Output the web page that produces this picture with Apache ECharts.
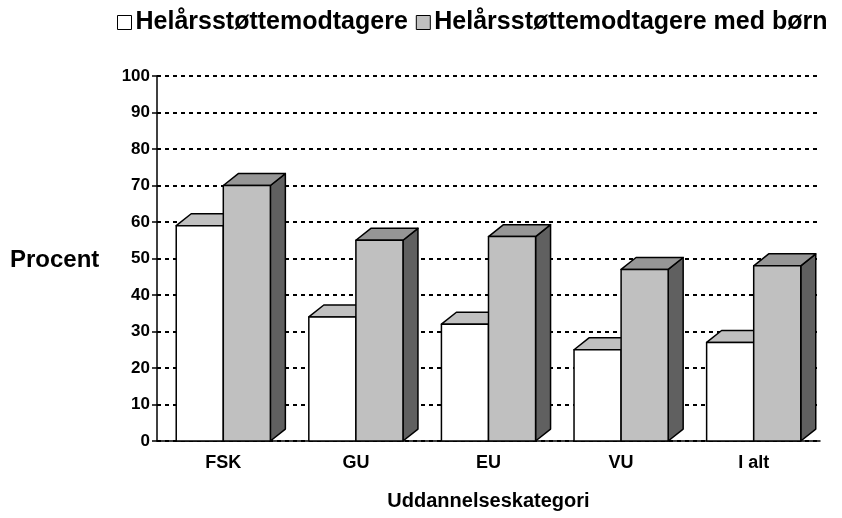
<!DOCTYPE html>
<html>
<head>
<meta charset="utf-8">
<script src="https://cdn.jsdelivr.net/npm/echarts@6/dist/echarts.min.js"></script>
<style>
html, body { margin: 0; padding: 0; background: #fff; }
#main { width: 842px; height: 518px; }
</style>
</head>
<body>
<div id="main"></div>
<script>
// data
var categories = ['FSK', 'GU', 'EU', 'VU', 'I alt'];
var seriesNames = ['Helårsstøttemodtagere', 'Helårsstøttemodtagere med børn'];
var allRecipients = [59, 34, 32, 25, 27];
var withChildren = [70, 55, 56, 47, 48];
var yTicks = [0, 10, 20, 30, 40, 50, 60, 70, 80, 90, 100];

var FONT = '"Liberation Sans", Arial, sans-serif';

var myChart = echarts.init(document.getElementById('main'));

// colours per series: front, top, side
var faces = [
    { front: '#ffffff', top: '#c0c0c0', side: '#969696' },
    { front: '#c0c0c0', top: '#969696', side: '#606060' }
];

// 3d bar drawn from axis coordinates
function makeRender(seriesIdx) {
    return function(params, api) {
        var cat = api.value(0);
        var val = api.value(1);
        var top = api.coord([cat, val]);
        var base = api.coord([cat, 0]);
        var band = api.size([1, 0])[0];
        var w = band * 0.355;
        var dx = band * 0.113;
        var dy = band * 0.09;
        var x0 = seriesIdx === 0 ? top[0] - w : top[0];
        var x1 = x0 + w;
        var y = top[1];
        var y0 = base[1];
        var f = faces[seriesIdx];
        var line = { stroke: '#000', lineWidth: 1.5, lineJoin: 'round' };
        return {
            type: 'group',
            children: [
                {
                    type: 'polygon',
                    shape: { points: [[x1, y], [x1 + dx, y - dy], [x1 + dx, y0 - dy], [x1, y0]] },
                    style: Object.assign({ fill: f.side }, line)
                },
                {
                    type: 'polygon',
                    shape: { points: [[x0, y], [x0 + dx, y - dy], [x1 + dx, y - dy], [x1, y]] },
                    style: Object.assign({ fill: f.top }, line)
                },
                {
                    type: 'rect',
                    shape: { x: x0, y: y, width: w, height: y0 - y },
                    style: Object.assign({ fill: f.front }, line)
                }
            ]
        };
    };
}

function toData(arr) {
    return arr.map(function(v, i) { return [i, v]; });
}

var option = {
    animation: false,
    textStyle: { fontFamily: FONT },
    legend: {
        top: 5,
        left: 112,
        itemWidth: 14,
        itemHeight: 14,
        itemGap: 8,
        icon: 'rect',
        textStyle: { fontFamily: FONT, fontWeight: 'bold', fontSize: 25, color: '#000', padding: [0, 0, 0, -1] },
        data: [
            { name: seriesNames[0], itemStyle: { color: faces[0].front, borderColor: '#000', borderWidth: 1 } },
            { name: seriesNames[1], itemStyle: { color: faces[1].front, borderColor: '#000', borderWidth: 1 } }
        ]
    },
    graphic: [
        {
            type: 'text',
            left: 10,
            top: 248,
            style: { text: 'Procent', font: 'bold 24px ' + FONT, fill: '#000' }
        }
    ],
    grid: { left: 157, right: 22, top: 76, bottom: 77 },
    xAxis: {
        type: 'category',
        data: categories,
        name: 'Uddannelseskategori',
        nameLocation: 'middle',
        nameGap: 50,
        nameTextStyle: { fontFamily: FONT, fontWeight: 'bold', fontSize: 20, color: '#000' },
        axisLine: { lineStyle: { color: '#000', width: 1.5 } },
        axisTick: { inside: true, length: 6, lineStyle: { color: '#000' } },
        axisLabel: { fontFamily: FONT, fontWeight: 'bold', fontSize: 18, color: '#000', margin: 13 }
    },
    yAxis: {
        type: 'value',
        min: yTicks[0],
        max: yTicks[yTicks.length - 1],
        interval: 10,
        axisLine: { show: true, lineStyle: { color: '#000', width: 1.5 } },
        axisTick: { show: true, length: 5, lineStyle: { color: '#000', width: 1.5 } },
        axisLabel: { fontFamily: FONT, fontWeight: 'bold', fontSize: 17, color: '#000', margin: 7 },
        splitLine: { lineStyle: { color: '#000', width: 2, type: [4, 4] } }
    },
    series: [
        {
            name: seriesNames[0],
            type: 'custom',
            renderItem: makeRender(0),
            itemStyle: { color: faces[0].front },
            encode: { x: 0, y: 1 },
            data: toData(allRecipients)
        },
        {
            name: seriesNames[1],
            type: 'custom',
            renderItem: makeRender(1),
            itemStyle: { color: faces[1].front },
            encode: { x: 0, y: 1 },
            data: toData(withChildren)
        }
    ]
};

myChart.setOption(option);
</script>
</body>
</html>
